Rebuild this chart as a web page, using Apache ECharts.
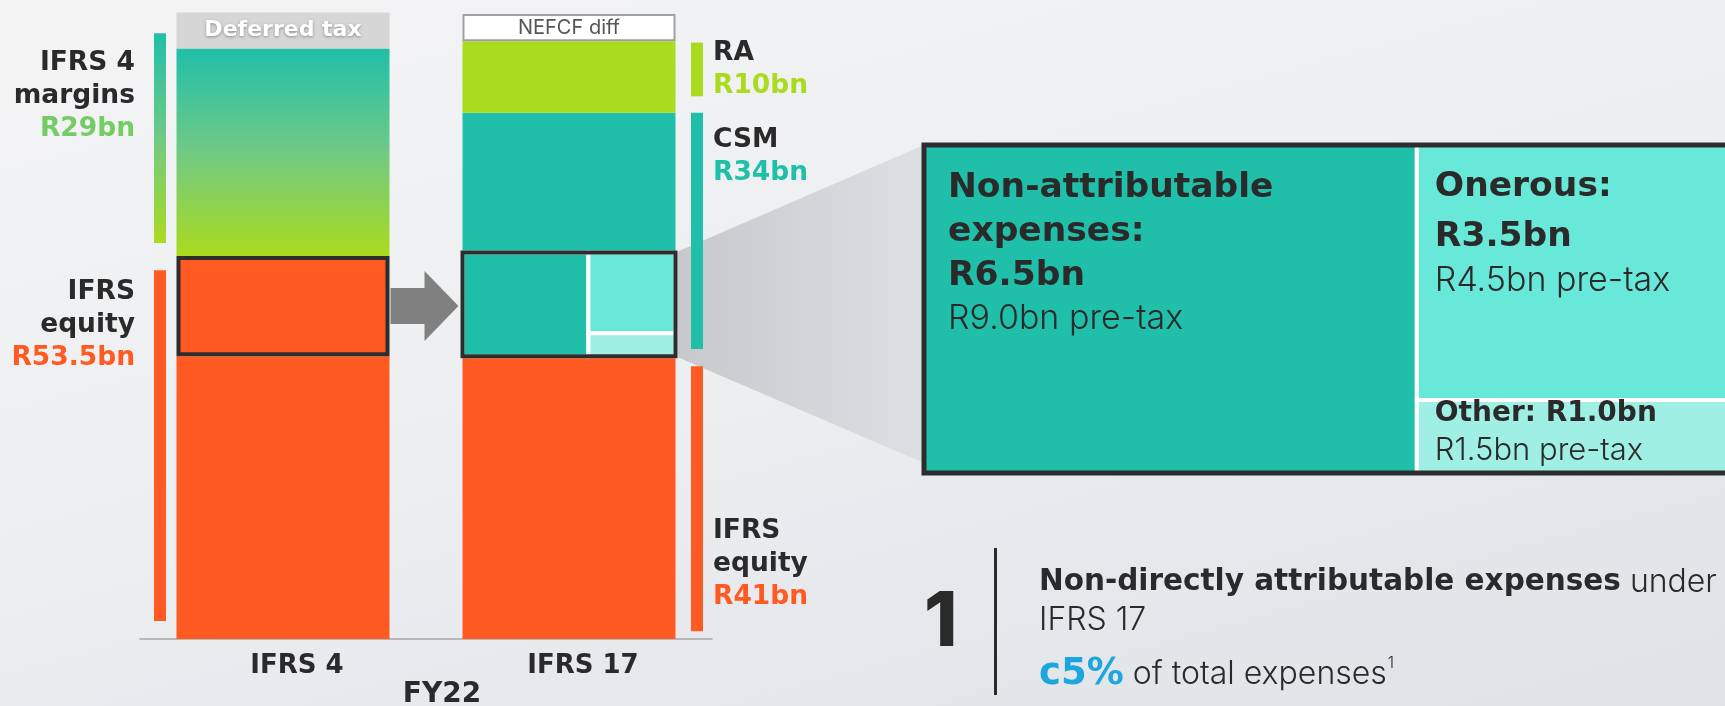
<!DOCTYPE html>
<html>
<head>
<meta charset="utf-8">
<title>IFRS 4 vs IFRS 17 – FY22</title>
<style>
  html, body { margin: 0; padding: 0; }
  #chart {
    width: 1725px;
    height: 706px;
    background: linear-gradient(165deg, #f4f4f5 0%, #eceef0 50%, #dfe2e6 100%);
  }
</style>
<script src="https://cdn.jsdelivr.net/npm/echarts@6/dist/echarts.min.js"></script>
</head>
<body>
<div id="chart"></div>
<script>
// ---- data (R bn) ----
const categories = ['IFRS 4', 'IFRS 17'];
// stacked bottom -> top
const equityRest  = [39.5, 39.5];
const equityBoxed = [14, null];
const csmBoxed    = [null, 14.5];
const margins     = [29, null];
const csmRest     = [null, 19.5];
const riskAdj     = [null, 10];
const deferredTax = [5, null];
const nefcfDiff   = [null, 3.8];

// side brackets: category index, from, to
const bracketCat   = [0, 0, 1, 1, 1];
const bracketFrom  = [55.3, 2.5, 75.8, 40.5, 1.1];
const bracketTo    = [84.6, 51.5, 83.3, 73.5, 38.1];
const bracketTitle = ['IFRS 4\nmargins', 'IFRS\nequity', 'RA', 'CSM', 'IFRS\nequity'];
const bracketValue = ['R29bn', 'R53.5bn', 'R10bn', 'R34bn', 'R41bn'];

// CSM breakdown
const breakdownNames = ['Non-attributable\nexpenses:', 'Onerous:', 'Other:'];
const breakdownAfter = [6.5, 3.5, 1.0];
const breakdownPre   = [9.0, 4.5, 1.5];

// ---- styling ----
const BOLD = '"DejaVu Sans", "Noto Sans", sans-serif';
const LIGHT = 'Inter, "Noto Sans", sans-serif';
const c = {
  orange: '#ff5a22',
  teal: '#20bfaa',
  green: '#aadb1e',
  cyan: '#68e8d8',
  cyanLight: '#9fefe5',
  dark: '#2a2a2a',
  frame: '#2d2d2d',
  blue: '#1ba6dd'
};
const BAR_W = 213;
const marginGrad = () => new echarts.graphic.LinearGradient(0, 0, 0, 1, [
  { offset: 0, color: '#20bfaa' },
  { offset: 0.5, color: '#70ca84' },
  { offset: 1, color: '#aadb1e' }
]);
const bracketFill = [marginGrad, () => c.orange, () => c.green, () => c.teal, () => c.orange];
const bracketValueColor = ['#74cc64', c.orange, c.green, c.teal, c.orange];
const bracketLabelDy = [13, 5.5, -6, 10.5, 148];

const cellColors = [c.teal, c.cyan, c.cyanLight];
const cellLabel = [
  { dx: 24, dy: 21, fromBottom: false, sep: '\n', head: { fontSize: 34.5, lineHeight: 44 }, sub: { fontSize: 34, lineHeight: 42 } },
  { dx: 18, dy: 17.5, fromBottom: false, sep: '\n', head: { fontSize: 34.5, lineHeight: 50 }, sub: { fontSize: 34, lineHeight: 37 } },
  { dx: 18, dy: -77.5, fromBottom: true, sep: ' ', head: { fontSize: 28, lineHeight: 37 }, sub: { fontSize: 31, lineHeight: 37 } }
];

// slice layout of the breakdown (left: first item, right column: the others stacked)
const total = breakdownAfter.reduce((a, b) => a + b, 0);
const rightSum = total - breakdownAfter[0];
const cells = [
  [0, breakdownAfter[0], 0, rightSum],
  [breakdownAfter[0], total, breakdownAfter[2], rightSum],
  [breakdownAfter[0], total, 0, breakdownAfter[2]]
];

const fmt = v => 'R' + v.toFixed(1) + 'bn';

function cellRenderer(withText) {
  return function (params, api) {
    const i = params.dataIndex;
    const tl = api.coord([api.value(0), api.value(3)]);
    const br = api.coord([api.value(1), api.value(2)]);
    const children = [{
      type: 'rect',
      shape: { x: tl[0], y: tl[1], width: br[0] - tl[0], height: br[1] - tl[1] },
      style: { fill: cellColors[i], stroke: '#fff', lineWidth: 4 }
    }];
    if (withText) {
      const cfg = cellLabel[i];
      const head = (breakdownNames[i] + cfg.sep + fmt(breakdownAfter[i]))
        .split('\n').map(l => '{h|' + l + '}').join('\n');
      children.push({
        type: 'text',
        x: tl[0] + cfg.dx,
        y: (cfg.fromBottom ? br[1] : tl[1]) + cfg.dy,
        z2: 5,
        style: {
          text: head + '\n{s|' + fmt(breakdownPre[i]) + ' pre-tax}',
          align: 'left',
          verticalAlign: 'top',
          rich: {
            h: Object.assign({ fontFamily: BOLD, fontWeight: 700, fill: c.dark }, cfg.head),
            s: Object.assign({ fontFamily: LIGHT, fontWeight: 300, fill: c.dark }, cfg.sub)
          }
        }
      });
    }
    if (i === cells.length - 1) {
      const a = api.coord([0, rightSum]);
      const b = api.coord([total, 0]);
      children.push({
        type: 'rect',
        z2: 10,
        shape: { x: a[0], y: a[1], width: b[0] - a[0], height: b[1] - a[1] },
        style: { fill: 'none', stroke: c.frame, lineWidth: withText ? 5 : 4 }
      });
    }
    return { type: 'group', children };
  };
}

function renderBracket(params, api) {
  const i = params.dataIndex;
  const cat = api.value(0);
  const top = api.coord([cat, api.value(2)]);
  const bottom = api.coord([cat, api.value(1)]);
  const left = cat === 0;
  const x = left ? top[0] - 129 : top[0] + 122;
  const text = bracketTitle[i].split('\n').map(l => '{t|' + l + '}').join('\n') +
    '\n{v|' + bracketValue[i] + '}';
  return {
    type: 'group',
    children: [{
      type: 'rect',
      shape: { x: x, y: top[1], width: 12, height: bottom[1] - top[1] },
      style: { fill: bracketFill[i]() }
    }, {
      type: 'text',
      x: left ? x - 19 : x + 22,
      y: top[1] + bracketLabelDy[i],
      style: {
        text: text,
        align: left ? 'right' : 'left',
        verticalAlign: 'top',
        rich: {
          t: { fontFamily: BOLD, fontWeight: 700, fontSize: 26.5, lineHeight: 33, fill: c.dark },
          v: { fontFamily: BOLD, fontWeight: 700, fontSize: 26.5, lineHeight: 33, fill: bracketValueColor[i] }
        }
      }
    }]
  };
}

const chart = echarts.init(document.getElementById('chart'));

const barSeries = (name, data, itemStyle, label) => ({
  name, type: 'bar', stack: 'total', barWidth: BAR_W, data,
  xAxisIndex: 0, yAxisIndex: 0, z: 2,
  itemStyle, label: label || { show: false }, silent: true
});

chart.setOption({
  backgroundColor: 'transparent',
  animation: false,
  grid: [
    { left: 140, top: 9, width: 572, height: 630, outerBoundsMode: 'none' },
    { left: 462, top: 252, width: BAR_W, height: 104, outerBoundsMode: 'none' },
    { left: 924, top: 145, width: 834, height: 328, outerBoundsMode: 'none' }
  ],
  xAxis: [
    {
      type: 'category', gridIndex: 0, data: categories,
      axisLine: { lineStyle: { color: '#a8a8a8', width: 1.5 } },
      axisTick: { show: false },
      axisLabel: {
        margin: 12, color: c.dark, fontFamily: BOLD, fontWeight: 700, fontSize: 26,
        lineHeight: 30, padding: [0, 0, 0, 28]
      },
      name: 'FY22', nameLocation: 'middle', nameGap: 41, nameMoveOverlap: false,
      nameTextStyle: {
        color: c.dark, fontFamily: BOLD, fontWeight: 700, fontSize: 28, lineHeight: 30,
        padding: [0, 0, 0, 32]
      }
    },
    { type: 'value', gridIndex: 1, min: 0, max: total, show: false },
    { type: 'value', gridIndex: 2, min: 0, max: total, show: false }
  ],
  yAxis: [
    { type: 'value', gridIndex: 0, min: 0, max: 88, show: false },
    { type: 'value', gridIndex: 1, min: 0, max: rightSum, show: false },
    { type: 'value', gridIndex: 2, min: 0, max: rightSum, show: false }
  ],
  series: [
    barSeries('IFRS equity', equityRest, { color: c.orange }),
    barSeries('Equity to CSM', equityBoxed, { color: c.orange, borderColor: c.frame, borderWidth: 4 }),
    barSeries('CSM breakdown', csmBoxed, { color: c.teal }),
    barSeries('IFRS 4 margins', margins, { color: marginGrad() }),
    barSeries('CSM', csmRest, { color: c.teal }),
    barSeries('RA', riskAdj, { color: c.green }),
    barSeries('Deferred tax', deferredTax, { color: '#d6d6d6' }, {
      show: true, position: 'inside', formatter: '{a}', color: '#fff',
      fontFamily: BOLD, fontWeight: 700, fontSize: 22,
      textShadowColor: 'rgba(0,0,0,0.35)', textShadowBlur: 3, textShadowOffsetY: 1
    }),
    barSeries('NEFCF diff', nefcfDiff, { color: '#fff', borderColor: '#a0a0a0', borderWidth: 2 }, {
      show: true, position: 'inside', formatter: '{a}', color: '#555',
      fontFamily: LIGHT, fontSize: 20
    }),
    {
      name: 'brackets', type: 'custom', xAxisIndex: 0, yAxisIndex: 0, silent: true, z: 4,
      encode: { x: 0, y: [1, 2] },
      renderItem: renderBracket,
      data: bracketCat.map((cat, i) => [cat, bracketFrom[i], bracketTo[i]])
    },
    {
      name: 'breakdown mini', type: 'custom', xAxisIndex: 1, yAxisIndex: 1, silent: true, z: 5,
      encode: { x: [0, 1], y: [2, 3] },
      renderItem: cellRenderer(false),
      data: cells
    },
    {
      name: 'breakdown', type: 'custom', xAxisIndex: 2, yAxisIndex: 2, silent: true, z: 5,
      encode: { x: [0, 1], y: [2, 3] },
      renderItem: cellRenderer(true),
      data: cells
    }
  ]
});

// place the mini breakdown over the boxed CSM part, then draw connectors
const px = (g, v) => chart.convertToPixel({ xAxisIndex: g, yAxisIndex: g }, v);
const miniTop = px(0, [1, equityRest[1] + csmBoxed[1]]);
const miniBottom = px(0, [1, equityRest[1]]);
const miniLeft = miniTop[0] - BAR_W / 2;
chart.setOption({
  grid: [{}, { left: miniLeft, top: miniTop[1], width: BAR_W, height: miniBottom[1] - miniTop[1] }]
});

const boxTop = px(0, [0, equityRest[0] + equityBoxed[0]]);
const boxBottom = px(0, [0, equityRest[0]]);
const arrowY = (boxTop[1] + boxBottom[1]) / 2;
const arrowX0 = boxTop[0] + BAR_W / 2 + 1;
const arrowX1 = miniLeft - 4;
const headX = arrowX1 - 34;
const bigTL = px(2, [0, rightSum]);
const bigBL = px(2, [0, 0]);
const miniR = miniLeft + BAR_W;

chart.setOption({
  graphic: [
    {
      type: 'polygon', z: 0, silent: true,
      shape: { points: [[miniR, miniTop[1]], [bigTL[0], bigTL[1]], [bigBL[0], bigBL[1] - 10], [miniR, miniBottom[1]]] },
      style: {
        fill: new echarts.graphic.LinearGradient(0, 0, 1, 0, [
          { offset: 0, color: '#c7c8cb' },
          { offset: 1, color: '#dde0e3' }
        ])
      }
    },
    {
      type: 'polygon', z: 0, silent: true,
      shape: { points: [
        [arrowX0, arrowY - 18], [headX, arrowY - 18], [headX, arrowY - 35], [arrowX1, arrowY],
        [headX, arrowY + 35], [headX, arrowY + 18], [arrowX0, arrowY + 18]
      ] },
      style: { fill: '#808080' }
    },
    {
      type: 'text', x: 924, y: 623, silent: true,
      style: { text: '1', font: '800 76px ' + LIGHT, fill: c.dark, verticalAlign: 'middle' }
    },
    {
      type: 'rect', silent: true,
      shape: { x: 994, y: 548, width: 3, height: 147 },
      style: { fill: c.dark }
    },
    {
      type: 'text', x: 1039, y: 582, silent: true,
      style: {
        text: '{b|Non-directly attributable expenses}{r| under}',
        verticalAlign: 'middle',
        rich: {
          b: { fontFamily: BOLD, fontWeight: 700, fontSize: 29.5, fill: c.dark },
          r: { fontFamily: LIGHT, fontWeight: 300, fontSize: 32, fill: c.dark }
        }
      }
    },
    {
      type: 'text', x: 1039, y: 620, silent: true,
      style: { text: 'IFRS 17', font: '300 32px ' + LIGHT, fill: c.dark, verticalAlign: 'middle' }
    },
    {
      type: 'text', x: 1039, y: 674, silent: true,
      style: {
        text: '{c|c5%}{r| of total expenses}{s|1}',
        verticalAlign: 'middle',
        rich: {
          c: { fontFamily: BOLD, fontWeight: 700, fontSize: 37, lineHeight: 42, fill: c.blue },
          r: { fontFamily: LIGHT, fontWeight: 300, fontSize: 32, fill: c.dark },
          s: { fontFamily: LIGHT, fontWeight: 300, fontSize: 16, fill: c.dark, verticalAlign: 'top', padding: [2, 0, 0, 1] }
        }
      }
    }
  ]
});

window.addEventListener('resize', () => chart.resize());
</script>
</body>
</html>
